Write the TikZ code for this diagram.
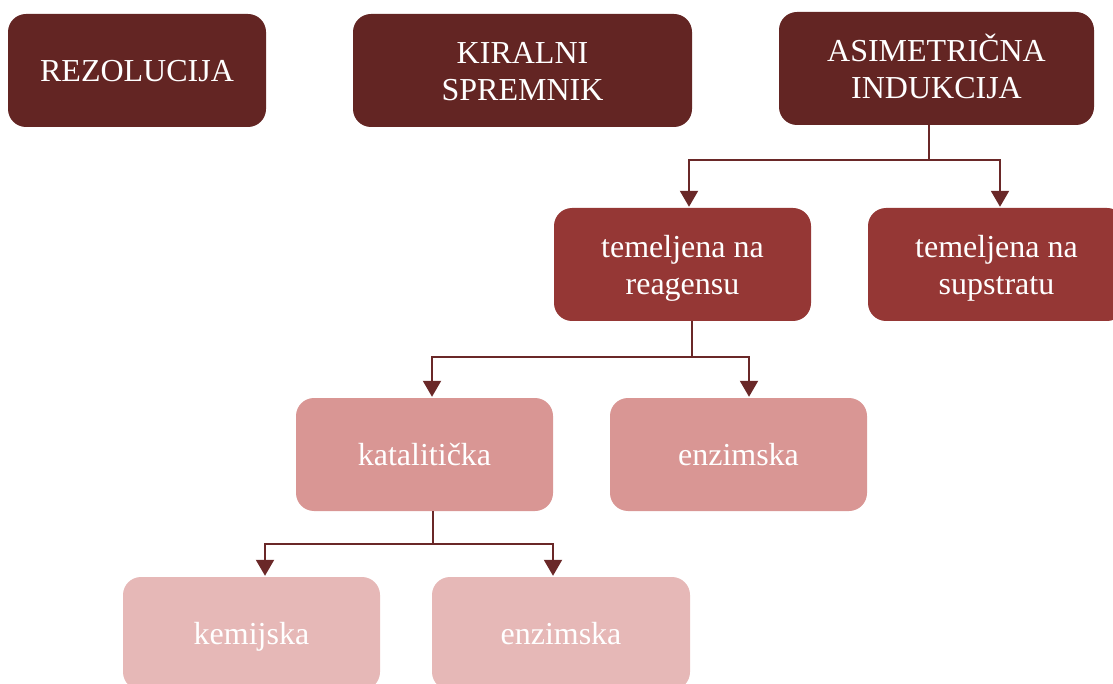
\documentclass[tikz,border=0pt]{standalone}
\usepackage{fontspec}
\setmainfont{Liberation Serif}
\usetikzlibrary{arrows.meta}
\definecolor{cdark}{HTML}{632523}
\definecolor{cmed}{HTML}{953735}
\definecolor{clight}{HTML}{D99694}
\definecolor{clighter}{HTML}{E6B8B7}
\definecolor{cline}{HTML}{6A2828}
\tikzset{
  box/.style={rounded corners=18pt, inner sep=0pt, text=white, align=center,
    font=\fontsize{32}{37}\selectfont, minimum height=113pt,
    text height=29.5pt, text depth=7pt},
  twoline/.style={text height=66.5pt},
  line/.style={draw=cline, line width=2pt},
  arr/.style={line, -{Triangle[width=18pt,length=16pt]}}
}
\begin{document}
\begin{tikzpicture}[x=1pt,y=-1pt]
\useasboundingbox (0,0) rectangle (1113,684);
\node[box, fill=cdark, minimum width=258pt] (rez) at (137,70.5) {REZOLUCIJA};
\node[box, twoline, fill=cdark, minimum width=339pt] (kir) at (522.5,70.5) {KIRALNI\\SPREMNIK};
\node[box, twoline, fill=cdark, minimum width=315pt] (asi) at (936.5,68.5) {ASIMETRIČNA\\INDUKCIJA};
\node[box, twoline, fill=cmed, minimum width=257pt] (rea) at (682.5,264.5) {temeljena na\\reagensu};
\node[box, twoline, fill=cmed, minimum width=257pt] (sup) at (996.5,264.5) {temeljena na\\supstratu};
\node[box, fill=clight, minimum width=257pt] (kat) at (424.5,454.5) {katalitička};
\node[box, fill=clight, minimum width=257pt] (enz1) at (738.5,454.5) {enzimska};
\node[box, fill=clighter, minimum width=257pt] (kem) at (251.5,633.5) {kemijska};
\node[box, fill=clighter, minimum width=258pt] (enz2) at (561,633.5) {enzimska};
\coordinate (j1) at (929,160);
\coordinate (j2) at (692,357);
\coordinate (j3) at (433,544);
\draw[line] (j1 |- asi.south) -- (j1);
\draw[arr] (j1) -| ([xshift=6.5pt,yshift=1pt]rea.north);
\draw[arr] (j1) -| ([xshift=3.5pt,yshift=1pt]sup.north);
\draw[line] (j2 |- rea.south) -- (j2);
\draw[arr] (j2) -| ([xshift=7.5pt,yshift=1pt]kat.north);
\draw[arr] (j2) -| ([xshift=10.5pt,yshift=1pt]enz1.north);
\draw[line] (j3 |- kat.south) -- (j3);
\draw[arr] (j3) -| ([xshift=13.5pt,yshift=1pt]kem.north);
\draw[arr] (j3) -| ([xshift=-8pt,yshift=1pt]enz2.north);
\end{tikzpicture}
\end{document}
